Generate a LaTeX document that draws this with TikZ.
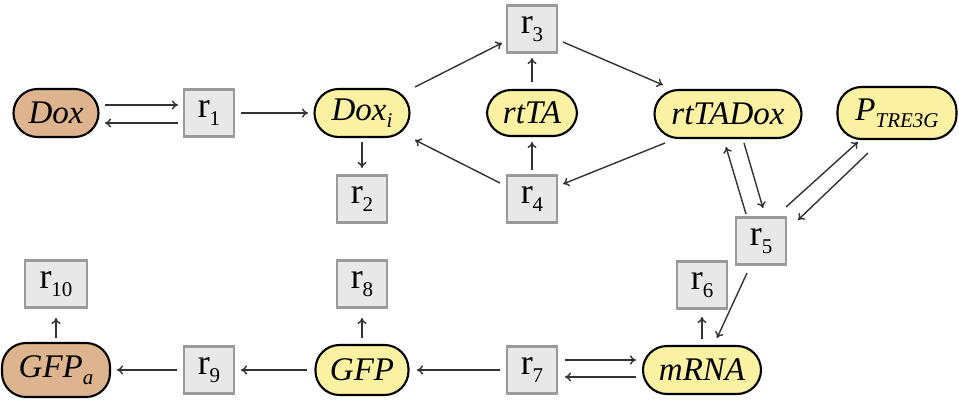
\documentclass[tikz,border=0pt]{standalone}
\usepackage{fontspec}
\setmainfont{Liberation Serif}
\usetikzlibrary{arrows.meta}
\definecolor{spyel}{HTML}{FBF1A3}
\definecolor{sptan}{HTML}{DDB48D}
\definecolor{boxfill}{HTML}{E8E8E8}
\definecolor{boxline}{HTML}{9A9A9A}
\newcommand{\sub}[1]{\raisebox{-0.22em}{\fontsize{21}{21}\selectfont #1}}
\newcommand{\rlab}[1]{r\sub{#1}}
\tikzset{
  species/.style={draw=black, line width=2.1pt, rounded corners=24pt, inner sep=0pt,
    minimum height=48pt, font=\fontsize{33}{38}\selectfont\itshape},
  yel/.style={species, fill=spyel},
  tan/.style={species, fill=sptan},
  rbox/.style={draw=boxline, fill=boxfill, line width=2.1pt, inner sep=0pt,
    minimum width=50pt, minimum height=47pt, font=\fontsize{36}{40}\selectfont},
  arr/.style={line width=1.4pt, draw=black!80, -{To[length=6pt,width=9pt]}}
}
\begin{document}
\begin{tikzpicture}[x=1pt,y=-1pt]
\useasboundingbox (0,0) rectangle (959,404);
% species
\node[tan, minimum width=85pt] (Dox) at (56,113) {Dox};
\node[yel, minimum width=95pt] (Doxi) at (362,113) {Dox\sub{i}};
\node[yel, minimum width=90pt, minimum height=46pt] (rtTA) at (532,113) {rtTA};
\node[yel, minimum width=147pt] (rtTADox) at (728,114) {rtTADox};
\node[yel, minimum width=119pt, minimum height=52pt] (P) at (897,113) {P\sub{TRE3G}};
\node[yel, minimum width=118pt] (mRNA) at (702,370) {mRNA};
\node[yel, minimum width=93pt, minimum height=50pt] (GFP) at (362,370) {GFP};
\node[tan, minimum width=108pt, minimum height=54pt] (GFPa) at (56,370) {GFP\sub{a}};
% reactions
\node[rbox] (r1) at (209,113) {\rlab{1}};
\node[rbox] (r2) at (362,199) {\rlab{2}};
\node[rbox] (r3) at (532,29) {\rlab{3}};
\node[rbox] (r4) at (532,199) {\rlab{4}};
\node[rbox] (r5) at (761,241) {\rlab{5}};
\node[rbox] (r6) at (702,285) {\rlab{6}};
\node[rbox] (r7) at (532,370) {\rlab{7}};
\node[rbox] (r8) at (362,284) {\rlab{8}};
\node[rbox] (r9) at (209,370) {\rlab{9}};
\node[rbox, minimum width=62pt] (r10) at (56,284) {\rlab{10}};
% connectors
\draw[arr] ([shift={(49,-8)}]Dox.center) -- ([shift={(-31,-8)}]r1.center);
\draw[arr] ([shift={(-31,10)}]r1.center) -- ([shift={(49,10)}]Dox.center);
\draw[arr] ([shift={(32,0)}]r1.center) -- ([shift={(-54,0)}]Doxi.center);
\draw[arr] ([shift={(0,29)}]Doxi.center) -- ([shift={(0,-31)}]r2.center);
\draw[arr] ([shift={(53,-26)}]Doxi.center) -- ([shift={(-30,14)}]r3.center);
\draw[arr] ([shift={(0,-31)}]rtTA.center) -- ([shift={(0,29)}]r3.center);
\draw[arr] ([shift={(0,-29)}]r4.center) -- ([shift={(0,29)}]rtTA.center);
\draw[arr] ([shift={(-32,-16)}]r4.center) -- ([shift={(53,27)}]Doxi.center);
\draw[arr] ([shift={(31,13)}]r3.center) -- ([shift={(-65,-29)}]rtTADox.center);
\draw[arr] ([shift={(-63,29)}]rtTADox.center) -- ([shift={(31,-15)}]r4.center);
\draw[arr] ([shift={(-15,-27)}]r5.center) -- ([shift={(-2,33)}]rtTADox.center);
\draw[arr] ([shift={(16,29)}]rtTADox.center) -- ([shift={(2,-33)}]r5.center);
\draw[arr] ([shift={(25,-34)}]r5.center) -- ([shift={(-39,29)}]P.center);
\draw[arr] ([shift={(-29,40)}]P.center) -- ([shift={(37,-21)}]r5.center);
\draw[arr] ([shift={(-14,32)}]r5.center) -- ([shift={(15,-32)}]mRNA.center);
\draw[arr] ([shift={(0,-31)}]mRNA.center) -- ([shift={(0,32)}]r6.center);
\draw[arr] ([shift={(33,-10)}]r7.center) -- ([shift={(-66,-10)}]mRNA.center);
\draw[arr] ([shift={(-66,7)}]mRNA.center) -- ([shift={(33,7)}]r7.center);
\draw[arr] ([shift={(-32,0)}]r7.center) -- ([shift={(55,0)}]GFP.center);
\draw[arr] ([shift={(0,-32)}]GFP.center) -- ([shift={(0,34)}]r8.center);
\draw[arr] ([shift={(-55,0)}]GFP.center) -- ([shift={(32,0)}]r9.center);
\draw[arr] ([shift={(-32,0)}]r9.center) -- ([shift={(61,0)}]GFPa.center);
\draw[arr] ([shift={(0,-32)}]GFPa.center) -- ([shift={(0,34)}]r10.center);
\end{tikzpicture}
\end{document}
